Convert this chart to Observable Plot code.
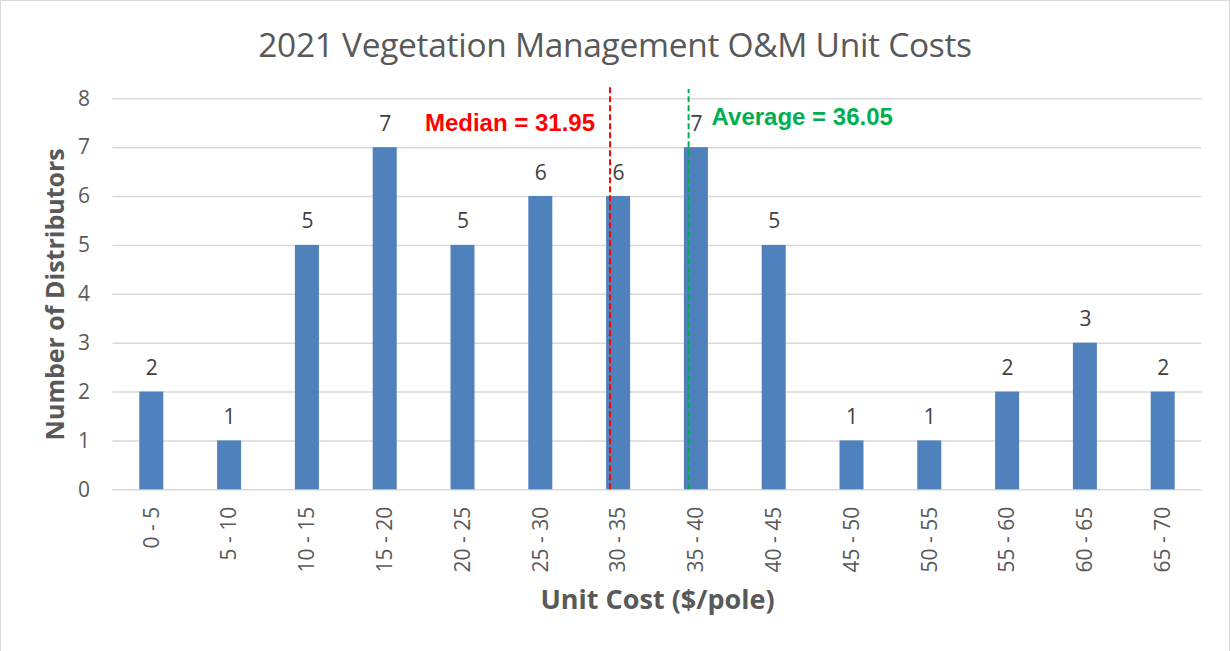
<!DOCTYPE html>
<html>
<head>
<meta charset="utf-8">
<script src="https://cdn.jsdelivr.net/npm/d3@7"></script>
<script src="https://cdn.jsdelivr.net/npm/@observablehq/plot@0.6"></script>
<style>
  html, body { margin: 0; padding: 0; background: #fff; }
  #wrap { position: relative; width: 1230px; height: 651px; overflow: hidden; background: #fff; }
  #border { position: absolute; left: 0; top: 0; width: 1228px; height: 651px; border: 1px solid #d9d9d9; border-bottom: none; pointer-events: none; }
  #title { position: absolute; left: 0; top: 22px; width: 1230px; text-align: center;
           font-family: "Open Sans", sans-serif; font-size: 33.5px; color: #595959; line-height: 44px; letter-spacing: -0.3px; }
  #chart { position: absolute; left: 0; top: 80px; }
</style>
</head>
<body>
<div id="wrap">
  <div id="title">2021 Vegetation Management O&amp;M Unit Costs</div>
  <div id="chart"></div>
  <div id="border"></div>
</div>
<script>
const categories = ["0 - 5", "5 - 10", "10 - 15", "15 - 20", "20 - 25", "25 - 30", "30 - 35",
                    "35 - 40", "40 - 45", "45 - 50", "50 - 55", "55 - 60", "60 - 65", "65 - 70"];
const counts = [2, 1, 5, 7, 5, 6, 6, 7, 5, 1, 1, 2, 3, 2];
const yTicks = [0, 1, 2, 3, 4, 5, 6, 7, 8];
const medianValue = 31.95;
const averageValue = 36.05;
const averageLineDrawnAt = 37.0; // where the green line sits in the original picture

const data = categories.map((c, i) => {
  const [lo, hi] = c.split(" - ").map(Number);
  return { label: c, lo, hi, mid: (lo + hi) / 2, count: counts[i] };
});
const centers = data.map(d => d.mid);
const labelOf = new Map(data.map(d => [d.mid, d.label]));

const chart = Plot.plot({
  width: 1230,
  height: 571,
  marginTop: 18.3,
  marginBottom: 161.7,
  marginLeft: 112.4,
  marginRight: 28.4,
  x: { type: "linear", domain: [0, 70] },
  y: { domain: [0, 8] },
  style: { fontFamily: "'Open Sans', sans-serif", fontSize: "21px", color: "#595959", background: "transparent", overflow: "visible" },
  marks: [
    Plot.gridY(yTicks, { stroke: "#d9d9d9", strokeOpacity: 1, strokeWidth: 1.4 }),
    Plot.rectY(data, { x1: "lo", x2: "hi", y: "count", fill: "#4f81bd", insetLeft: 26.9, insetRight: 26.9 }),
    Plot.axisX(centers, { tickFormat: d => labelOf.get(d), tickRotate: -90, tickSize: 0, tickPadding: 17,
                          fontSize: 21, fill: "#595959", label: null }),
    Plot.axisY(yTicks, { tickSize: 0, tickPadding: 23, fontSize: 21, fill: "#595959", label: null }),
    Plot.text(data, { x: "mid", y: "count", text: d => String(d.count), lineAnchor: "bottom", dy: -17,
                      fill: "#404040", fontSize: 21 }),
    Plot.ruleX([medianValue], { y1: 0, y2: 8.27, stroke: "#ff0000", strokeWidth: 2, strokeDasharray: "6,3" }),
    Plot.ruleX([averageLineDrawnAt], { y1: 0, y2: 8.19, stroke: "#00b050", strokeWidth: 2, strokeDasharray: "6,3" }),
    Plot.text([`Median = ${medianValue}`], { x: medianValue, y: 7.5, textAnchor: "end", dx: -15,
                      fill: "#ff0000", fontWeight: "bold", fontSize: 24, fontFamily: "'Liberation Sans', Arial, sans-serif" }),
    Plot.text([`Average = ${averageValue}`], { x: averageLineDrawnAt, y: 7.63, textAnchor: "start", dx: 23,
                      fill: "#00b050", fontWeight: "bold", fontSize: 24, fontFamily: "'Liberation Sans', Arial, sans-serif" }),
    Plot.text(["Number of Distributors"], { frameAnchor: "left", textAnchor: "middle", rotate: -90, dx: -57,
                      fill: "#595959", fontWeight: "bold", fontSize: 25 }),
    Plot.text(["Unit Cost ($/pole)"], { frameAnchor: "bottom", dy: 119,
                      fill: "#595959", fontWeight: "bold", fontSize: 27 })
  ]
});
document.getElementById("chart").appendChild(chart);
</script>
</body>
</html>
